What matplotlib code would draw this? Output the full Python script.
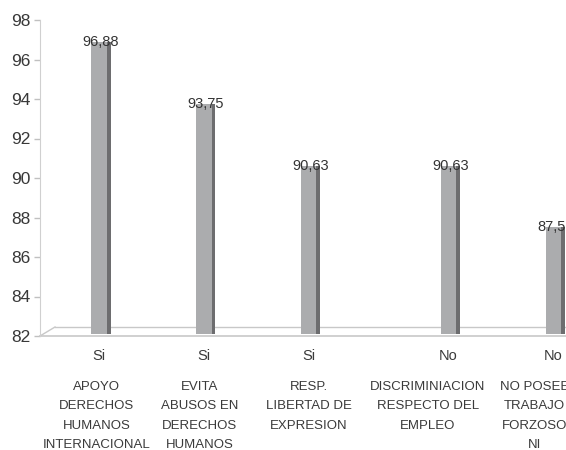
import numpy as np
import matplotlib
matplotlib.use("Agg")
import matplotlib.pyplot as plt
from matplotlib.lines import Line2D

# datos del grafico
respuestas = ["Si", "Si", "Si", "No", "No"]
indicadores = [
    "APOYO\nDERECHOS\nHUMANOS\nINTERNACIONAL",
    "EVITA\nABUSOS EN\nDERECHOS\nHUMANOS",
    "RESP.\nLIBERTAD DE\nEXPRESION",
    "DISCRIMINIACION\nRESPECTO DEL\nEMPLEO",
    "NO POSEE\nTRABAJO\nFORZOSO\nNI",
]
porcentajes = [96.88, 93.75, 90.63, 90.63, 87.50]
etiquetas_valor = ["96,88", "93,75", "90,63", "90,63", "87,50"]
y_ticks = [82, 84, 86, 88, 90, 92, 94, 96, 98]

# layout (posiciones de las columnas y de los textos)
pos_barras = [0, 1, 2, 3.33, 4.33]
pos_textos = [-0.02, 0.96, 2.0, 3.13, 4.15]
ANCHO = 0.143
LADO = 0.038

plt.rcParams['font.family'] = ['Liberation Sans', 'DejaVu Sans']

fig = plt.figure(figsize=(5.66, 4.5), dpi=100)
ax = fig.add_axes([40 / 566, 114 / 450, 526 / 566, 316 / 450])
ax.set_xlim(-0.562, 4.448)
ax.set_ylim(82, 98)

# piso 3D
gris_piso = "#c8c8c8"
ax.add_line(Line2D([0, 1], [0, 0], transform=ax.transAxes, color=gris_piso, lw=1.2, clip_on=False))
ax.add_line(Line2D([15 / 526, 1], [9 / 316, 9 / 316], transform=ax.transAxes, color=gris_piso, lw=1.0, clip_on=False))
ax.add_line(Line2D([0, 15 / 526], [0, 9 / 316], transform=ax.transAxes, color=gris_piso, lw=1.0, clip_on=False))

# columnas con cara lateral
for x, v, lab in zip(pos_barras, porcentajes, etiquetas_valor):
    ax.bar(x, v - 82.1, bottom=82.1, width=ANCHO, color="#abacae", edgecolor="none", zorder=3)
    ax.bar(x + ANCHO / 2 + LADO / 2, v - 82.1, bottom=82.1, width=LADO, color="#6d6d6f",
           edgecolor="none", zorder=3)
    ax.text(x + LADO / 2, v, lab, ha="center", va="center", fontsize=10.5, color="#333333", zorder=4)

for s in ["top", "right", "bottom"]:
    ax.spines[s].set_visible(False)
ax.spines["left"].set_color("#d0d0d0")
ax.set_yticks(y_ticks)
ax.tick_params(axis="y", colors="#c0c0c0", labelcolor="#383838", labelsize=12.5, length=4, width=1, pad=3)
ax.set_xticks([])

tr = ax.get_xaxis_transform()
for x, r in zip(pos_barras, respuestas):
    ax.text(x, -0.062, r, transform=tr, ha="center", va="center", fontsize=10.5, color="#3a3a3a", clip_on=False)
for x, t in zip(pos_textos, indicadores):
    ax.text(x, -0.142, t, transform=tr, ha="center", va="top", fontsize=9.5, color="#3a3a3a",
            linespacing=1.82, clip_on=False)

fig.savefig("out.png", dpi=100)
